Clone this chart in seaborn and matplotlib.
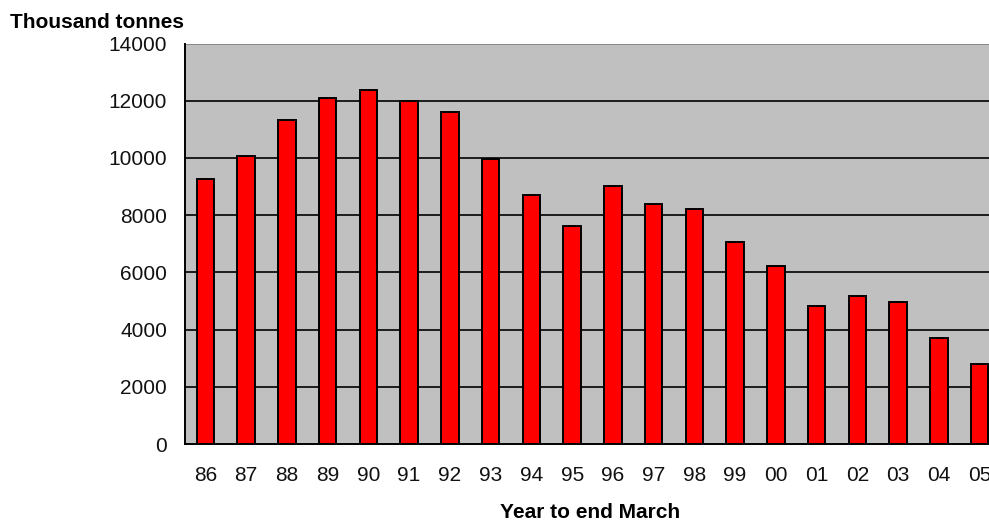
import matplotlib
matplotlib.use("Agg")
import matplotlib.pyplot as plt
import seaborn as sns
import pandas as pd

years = ["86", "87", "88", "89", "90", "91", "92", "93", "94", "95",
         "96", "97", "98", "99", "00", "01", "02", "03", "04", "05"]
values = [9280, 10060, 11320, 12080, 12370, 12000, 11590, 9980, 8720, 7620,
          9010, 8380, 8230, 7050, 6210, 4820, 5170, 4950, 3690, 2780]
y_ticks = [0, 2000, 4000, 6000, 8000, 10000, 12000, 14000]

sns.set_style("white")
plt.rcParams["font.family"] = ["Liberation Sans", "DejaVu Sans"]

df = pd.DataFrame({"year": years, "value": values})

fig = plt.figure(figsize=(9.89, 5.23), dpi=100)
ax = fig.add_axes([185 / 989, 79 / 523, 815 / 989, 400.5 / 523])
ax.set_facecolor("#C0C0C0")

sns.barplot(data=df, x="year", y="value", order=years, color="#FF0000",
            width=0.43, edgecolor="black", linewidth=1.4, saturation=1,
            ax=ax, zorder=3)

ax.set_ylim(0, 14000)
ax.set_xlim(-0.5, len(years) - 0.5)
ax.set_yticks(y_ticks)
ax.set_yticklabels([str(v) for v in y_ticks], fontsize=15, color="#111111")
ax.set_xticklabels(years, fontsize=15, color="#111111")
for v in y_ticks[1:-1]:
    ax.axhline(v, color="black", linewidth=1.2, zorder=1)
ax.axhline(14000, color="#808080", linewidth=1.2, zorder=1)

ax.set_xticks([i - 0.5 for i in range(len(years) + 1)], minor=True)
ax.tick_params(axis="x", which="major", length=0, pad=16)
ax.tick_params(axis="x", which="minor", length=5, width=1.2, color="black", direction="out")
ax.tick_params(axis="y", which="major", length=6, width=1.2, color="black", direction="out", pad=7)

for s in ["top", "right"]:
    ax.spines[s].set_visible(False)
for s in ["left", "bottom"]:
    ax.spines[s].set_color("black")
    ax.spines[s].set_linewidth(1.4)

ax.set_xlabel("")
ax.set_ylabel("")
fig.text(10 / 989, 1 - 22 / 523, "Thousand tonnes", fontsize=15, fontweight="bold",
         ha="left", va="center", color="black")
fig.text(590 / 989, 1 - 512 / 523, "Year to end March", fontsize=15, fontweight="bold",
         ha="center", va="center", color="black")

fig.savefig("out.png", dpi=100)
